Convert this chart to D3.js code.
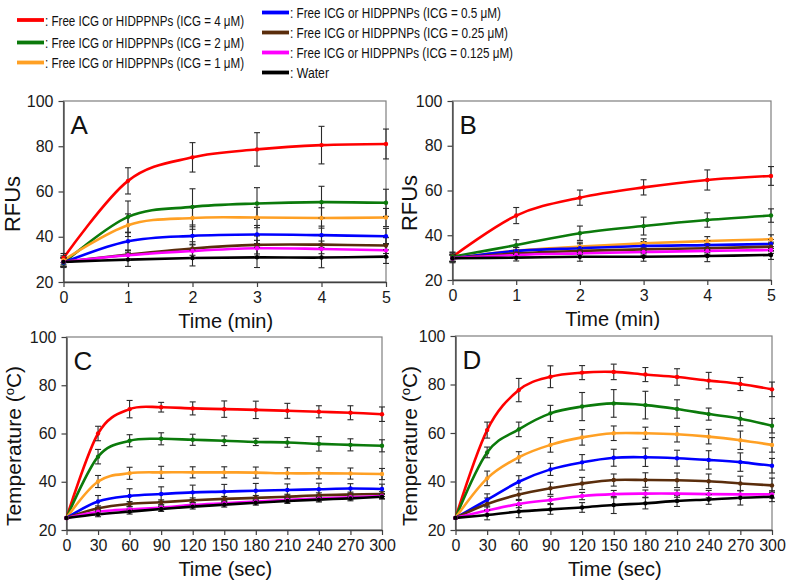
<!DOCTYPE html>
<html>
<head>
<meta charset="utf-8">
<script src="https://cdn.jsdelivr.net/npm/d3@7/dist/d3.min.js"></script>
<style>
  html, body { margin: 0; padding: 0; background: #fff; }
  svg { display: block; font-family: "Liberation Sans", Arial, sans-serif; }
</style>
</head>
<body>
<svg id="chart" width="787" height="587"></svg>
<script>
// ---------------- DATA ----------------
const seriesLabels = [
  ": Free ICG or HIDPPNPs (ICG = 4 \u03BCM)",
  ": Free ICG or HIDPPNPs (ICG = 2 \u03BCM)",
  ": Free ICG or HIDPPNPs (ICG = 1 \u03BCM)",
  ": Free ICG or HIDPPNPs (ICG = 0.5 \u03BCM)",
  ": Free ICG or HIDPPNPs (ICG = 0.25 \u03BCM)",
  ": Free ICG or HIDPPNPs (ICG = 0.125 \u03BCM)",
  ": Water"
];
const seriesColors = ["#ff0000", "#0b7a0b", "#ffa024", "#0000ff", "#5a2d0c", "#ff00ff", "#000000"];

const timeMin = [0, 1, 2, 3, 4, 5];
const timeSec = [0, 30, 60, 90, 120, 150, 180, 210, 240, 270, 300];
const yTicks = [20, 40, 60, 80, 100];

// Panel A: RFUs vs time (min)
const valuesA = [
  [30.6, 64.7, 75.1, 78.6, 80.5, 81.0],
  [28.4, 48.8, 53.2, 54.7, 55.3, 55.0],
  [29.6, 45.1, 48.3, 48.5, 48.3, 48.5],
  [28.6, 38.0, 40.4, 41.0, 40.7, 40.2],
  [28.9, 32.1, 34.8, 36.4, 36.5, 36.1],
  [28.9, 31.8, 33.7, 34.9, 34.6, 34.0],
  [28.9, 29.9, 30.6, 30.9, 30.8, 31.2]
];
const errorsA = [
  [2, 5.8, 6.5, 7.4, 8.3, 6.6],
  [2, 7, 8, 7, 7, 6],
  [2, 5, 5, 4.5, 4.5, 4],
  [2, 4, 4, 4, 4, 3.5],
  [2, 2, 3, 4, 4, 3.5],
  [2, 2, 3, 3.5, 3.5, 3],
  [2, 3, 3.5, 4.5, 4.5, 3]
];

// Panel B: RFUs vs time (min)
const valuesB = [
  [30.4, 48.8, 56.8, 61.4, 64.7, 66.5],
  [30.4, 35.6, 40.9, 44.1, 46.8, 48.8],
  [29.7, 33.1, 34.9, 36.4, 37.4, 38.2],
  [29.7, 33.0, 34.2, 35.2, 35.6, 36.1],
  [29.7, 31.9, 33.0, 33.7, 34.2, 34.9],
  [29.7, 31.2, 31.9, 32.5, 33.0, 33.4],
  [29.7, 30.0, 30.4, 30.4, 30.7, 31.2]
];
const errorsB = [
  [2, 3.6, 3.4, 3.4, 4.5, 4.2],
  [2, 2.4, 3.2, 4, 3.2, 3],
  [1.5, 1.5, 2, 2, 2, 2],
  [1.5, 1.5, 2, 2, 2, 2],
  [1.5, 1.5, 1.5, 2, 2, 2],
  [1.5, 1.5, 1.5, 1.5, 1.5, 1.5],
  [2, 1.5, 2, 2, 2.5, 2]
];

// Panel C: Temperature vs time (sec)
const valuesC = [
  [25, 60.0, 70.1, 70.9, 70.4, 70.1, 69.8, 69.4, 69.0, 68.6, 68.0],
  [25, 50.4, 57.0, 57.8, 57.4, 57.0, 56.5, 56.3, 55.7, 55.3, 54.9],
  [25, 40.1, 43.5, 43.9, 43.9, 43.9, 43.8, 43.5, 43.5, 43.4, 43.2],
  [25, 31.8, 34.1, 34.9, 35.6, 35.9, 36.3, 36.6, 36.9, 37.2, 37.0],
  [25, 29.0, 30.8, 31.5, 32.3, 32.9, 33.3, 33.8, 34.4, 34.7, 34.9],
  [25, 27.6, 28.6, 29.3, 30.4, 31.1, 31.8, 32.5, 33.0, 33.6, 34.1],
  [25, 26.5, 27.6, 28.7, 29.7, 30.5, 31.3, 32.0, 32.6, 33.1, 33.8]
];
const errorsC = [
  [0, 3, 3.6, 2, 2.7, 3.4, 3.6, 3.1, 2.5, 2.9, 3],
  [0, 3, 2.5, 2.5, 2.3, 2, 1.5, 2, 3, 2.5, 2.5],
  [0, 2.5, 2.5, 2.5, 2.3, 2.3, 2.3, 2.3, 2.3, 2.3, 2.3],
  [0, 2.5, 3, 3, 3, 3, 3, 2.5, 2.5, 2, 2],
  [0, 1, 1, 1, 1, 1, 1, 1, 1, 1, 1],
  [0, 1, 1, 1, 1, 1, 1, 1, 1, 1, 1],
  [0, 1, 1, 1, 1, 1, 1, 1, 1, 1, 1]
];

// Panel D: Temperature vs time (sec)
const valuesD = [
  [25, 61.2, 77.7, 83.2, 84.9, 85.2, 84.1, 83.1, 81.6, 80.2, 78.0],
  [25, 52.0, 61.5, 68.1, 70.9, 72.2, 71.5, 69.9, 67.8, 65.9, 63.0],
  [25, 41.3, 50.0, 55.1, 58.2, 59.9, 59.9, 59.5, 58.5, 57.0, 55.1],
  [25, 32.4, 39.9, 45.0, 47.9, 49.8, 50.0, 49.6, 48.9, 48.0, 46.5],
  [25, 30.7, 34.6, 37.2, 39.2, 40.6, 40.6, 40.5, 40.1, 39.2, 38.4],
  [25, 28.0, 30.7, 32.4, 34.0, 34.8, 35.0, 35.0, 34.8, 34.7, 34.7],
  [25, 26.2, 27.6, 28.5, 29.3, 30.3, 31.0, 32.0, 32.6, 33.3, 33.7]
];
const errorsD = [
  [0, 3.3, 4.8, 4.5, 2.9, 3.2, 2.9, 3.4, 3.4, 2.7, 3],
  [0, 2.2, 3, 3.3, 5.8, 5.7, 5.7, 3.8, 2.5, 2.9, 3],
  [0, 3, 2.3, 3, 3.2, 3, 2.5, 3.2, 3, 3.8, 3],
  [0, 2.5, 2.5, 2.5, 3.2, 3.5, 3.8, 3.3, 3.8, 3.8, 3],
  [0, 2.5, 2, 2.5, 2.5, 2.5, 3, 3, 3, 3, 3],
  [0, 1.5, 1.5, 1.5, 1.5, 1.5, 1.5, 1.5, 1.5, 1.5, 1.5],
  [0, 2, 2.5, 2, 2, 3.5, 2.3, 2.3, 2, 3, 2]
];

// ---------------- LAYOUT ----------------
const panels = [
  { letter: "A", x: timeMin, xDomain: [0, 5], values: valuesA, errors: errorsA,
    left: 63.5, right: 386, top: 101, bottom: 282, yTitle: "RFUs", xTitle: "Time (min)",
    yTitleX: 20, yTitleY: 204, xTitleY: 328 },
  { letter: "B", x: timeMin, xDomain: [0, 5], values: valuesB, errors: errorsB,
    left: 452.5, right: 771, top: 101, bottom: 280, yTitle: "RFUs", xTitle: "Time (min)",
    yTitleX: 417, yTitleY: 203, xTitleY: 326 },
  { letter: "C", x: timeSec, xDomain: [0, 300], values: valuesC, errors: errorsC,
    left: 66.5, right: 382, top: 337, bottom: 530, yTitle: "Temperature", xTitle: "Time (sec)",
    yTitleX: 21, yTitleY: 446, xTitleY: 576 },
  { letter: "D", x: timeSec, xDomain: [0, 300], values: valuesD, errors: errorsD,
    left: 455.5, right: 772, top: 336, bottom: 530, yTitle: "Temperature", xTitle: "Time (sec)",
    yTitleX: 417, yTitleY: 446, xTitleY: 576 }
];

const svg = d3.select("#chart");
const curve = d3.curveCardinal.tension(0);

panels.forEach(p => {
  const xs = d3.scaleLinear().domain(p.xDomain).range([p.left, p.right]);
  const ys = d3.scaleLinear().domain([20, 100]).range([p.bottom, p.top]);
  const g = svg.append("g");

  // frame
  g.append("rect")
    .attr("x", p.left).attr("y", p.top)
    .attr("width", p.right - p.left).attr("height", p.bottom - p.top)
    .attr("fill", "none").attr("stroke", "#7f7f7f").attr("stroke-width", 1.2);

  // axes
  const ax = g.append("g").attr("transform", `translate(0,${p.bottom})`)
    .call(d3.axisBottom(xs).tickValues(p.x).tickSize(5).tickSizeOuter(0).tickPadding(5).tickFormat(d3.format("d")));
  const ay = g.append("g").attr("transform", `translate(${p.left},0)`)
    .call(d3.axisLeft(ys).tickValues(yTicks).tickSize(5).tickSizeOuter(0).tickPadding(5));
  [ax, ay].forEach(a => {
    a.select(".domain").attr("stroke", "#404040").attr("stroke-width", 1.3);
    a.selectAll(".tick line").attr("stroke", "#404040").attr("stroke-width", 1.2);
    a.selectAll(".tick text").attr("fill", "#1a1a1a").style("font-size", "16px")
      .style("font-family", '"Liberation Sans", Arial, sans-serif');
  });

  // lines
  const line = d3.line().x((d, i) => xs(p.x[i])).y(d => ys(d)).curve(curve);
  p.values.forEach((vals, s) => {
    g.append("path").datum(vals)
      .attr("d", line).attr("fill", "none")
      .attr("stroke", seriesColors[s]).attr("stroke-width", 2.6);
  });

  // error bars
  p.values.forEach((vals, s) => {
    const eb = g.append("g").attr("stroke", "#2a2a2a").attr("stroke-width", 1.1);
    vals.forEach((v, i) => {
      const e = p.errors[s][i];
      if (!e) return;
      const cx = xs(p.x[i]);
      eb.append("line").attr("x1", cx).attr("x2", cx).attr("y1", ys(v - e)).attr("y2", ys(v + e));
      eb.append("line").attr("x1", cx - 3).attr("x2", cx + 3).attr("y1", ys(v - e)).attr("y2", ys(v - e));
      eb.append("line").attr("x1", cx - 3).attr("x2", cx + 3).attr("y1", ys(v + e)).attr("y2", ys(v + e));
    });
  });

  // markers
  p.values.forEach((vals, s) => {
    g.selectAll(null).data(vals).enter().append("circle")
      .attr("cx", (d, i) => xs(p.x[i])).attr("cy", d => ys(d))
      .attr("r", 2.2).attr("fill", seriesColors[s]);
  });

  // panel letter
  g.append("text").attr("x", p.left + 7).attr("y", p.top + 33)
    .style("font-size", "26px").attr("fill", "#111").text(p.letter);

  // axis titles
  g.append("text").attr("x", (p.left + p.right) / 2 + 1).attr("y", p.xTitleY)
    .attr("text-anchor", "middle").style("font-size", "20px").attr("fill", "#111").text(p.xTitle);

  const yt = g.append("text")
    .attr("transform", `translate(${p.yTitleX},${p.yTitleY}) rotate(-90)`)
    .attr("text-anchor", "middle").style("font-size", p.yTitle === "RFUs" ? "22px" : "21px").attr("fill", "#111");
  if (p.yTitle === "Temperature") {
    yt.append("tspan").text("Temperature (");
    yt.append("tspan").attr("dy", -7).style("font-size", "13px").text("o");
    yt.append("tspan").attr("dy", 7).text("C)");
  } else {
    yt.text(p.yTitle);
  }
});

// ---------------- LEGEND ----------------
const legendPos = [
  { x: 17, y: 20, w: 199 },
  { x: 17, y: 42.5, w: 199 },
  { x: 17, y: 62.5, w: 199 },
  { x: 262, y: 12.5, w: 211 },
  { x: 262, y: 32.5, w: 218 },
  { x: 262, y: 52.5, w: 223 },
  { x: 262, y: 72.5, w: 39 }
];
const legend = svg.append("g");
seriesLabels.forEach((lab, s) => {
  const lp = legendPos[s];
  legend.append("line").attr("x1", lp.x).attr("x2", lp.x + 27)
    .attr("y1", lp.y).attr("y2", lp.y)
    .attr("stroke", seriesColors[s]).attr("stroke-width", 3.8);
  legend.append("text").attr("x", lp.x + 28).attr("y", lp.y + 5.5)
    .style("font-size", "15.5px").attr("fill", "#111")
    .attr("textLength", lp.w).attr("lengthAdjust", "spacingAndGlyphs")
    .text(lab);
});
</script>
</body>
</html>
